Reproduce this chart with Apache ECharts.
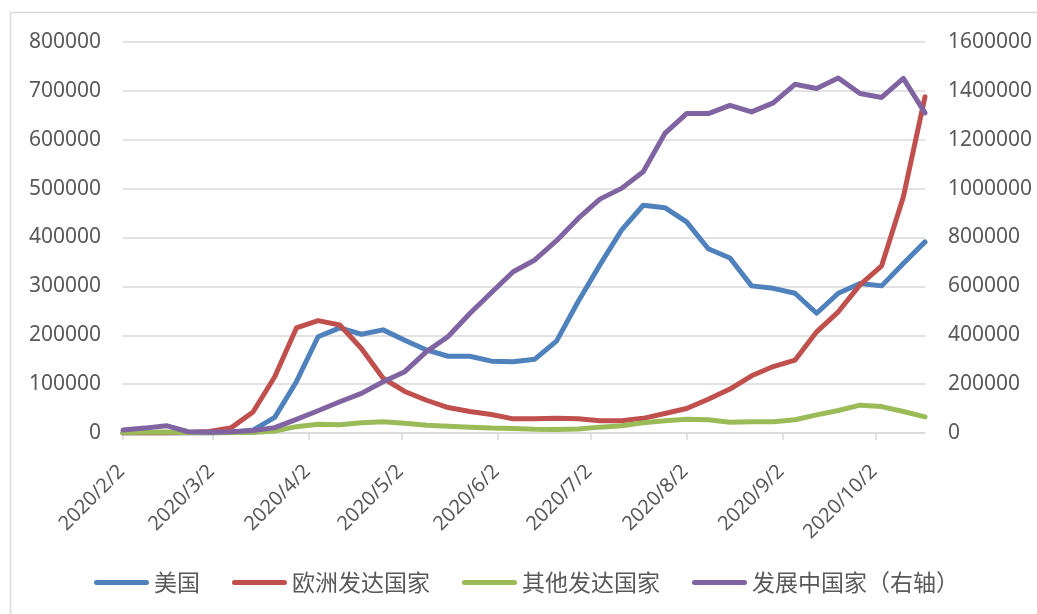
<!DOCTYPE html>
<html>
<head>
<meta charset="utf-8">
<script src="https://cdn.jsdelivr.net/npm/echarts@6/dist/echarts.min.js"></script>
<style>
    html, body { margin: 0; padding: 0; background: #fff; }
    #chart { width: 1037px; height: 614px; }
</style>
</head>
<body>
<div id="chart"></div>
<script>
    // weekly dates
    var weeks = ['2020/2/2', '2020/2/9', '2020/2/16', '2020/2/23', '2020/3/1', '2020/3/8',
        '2020/3/15', '2020/3/22', '2020/3/29', '2020/4/5', '2020/4/12', '2020/4/19', '2020/4/26',
        '2020/5/3', '2020/5/10', '2020/5/17', '2020/5/24', '2020/5/31', '2020/6/7', '2020/6/14',
        '2020/6/21', '2020/6/28', '2020/7/5', '2020/7/12', '2020/7/19', '2020/7/26', '2020/8/2',
        '2020/8/9', '2020/8/16', '2020/8/23', '2020/8/30', '2020/9/6', '2020/9/13', '2020/9/20',
        '2020/9/27', '2020/10/4', '2020/10/11', '2020/10/18'];

    var tickLabels = ['2020/2/2', '2020/3/2', '2020/4/2', '2020/5/2', '2020/6/2',
        '2020/7/2', '2020/8/2', '2020/9/2', '2020/10/2'];

    var names = ['美国', '欧洲发达国家', '其他发达国家', '发展中国家（右轴）'];

    var usa = [0, 0, 0, 0, 200, 1000, 6000, 32000, 105000, 197000, 215000, 202000, 211000, 190000,
        170000, 157000, 157000, 147000, 146000, 151000, 188000, 269000, 344000, 415000, 466000, 461000,
        432000, 377000, 358000, 301000, 296000, 286000, 245000, 286000, 306000, 301000, 347000, 391000];

    var europe = [0, 0, 0, 1000, 3000, 11000, 43000, 115000, 215000, 230000, 221000, 173000, 112000,
        85000, 67000, 52000, 44000, 38000, 29000, 29000, 30000, 29000, 25000, 25000, 30000, 40000, 50000,
        69000, 90000, 117000, 136000, 149000, 207000, 248000, 303000, 342000, 483000, 688000];

    var otherDev = [1000, 1500, 2000, 500, 500, 500, 1000, 4000, 13000, 18000, 17000, 21000, 23000,
        20000, 16000, 14000, 12000, 10000, 9000, 7500, 7000, 8000, 12000, 15000, 21000, 25000, 28000,
        27000, 22000, 23000, 23000, 27000, 37000, 46000, 57000, 54000, 44000, 33000];

    var developing = [12000, 20000, 30000, 5000, 3000, 5000, 10000, 22000, 56000, 91000, 128000,
        162000, 210000, 251000, 333000, 395000, 489000, 575000, 660000, 708000, 787000, 878000, 957000,
        1001000, 1069000, 1226000, 1307000, 1307000, 1341000, 1314000, 1351000, 1427000, 1410000,
        1453000, 1389000, 1373000, 1451000, 1310000];

    var colors = ['#4F81BD', '#C0504D', '#9BBB59', '#8064A2'];
    var labelColor = '#595959';
    var gridColor = '#D9D9D9';
    var numFont = 'Noto Sans';

    function toTime(label) {
        var p = label.split('/');
        return new Date(+p[0], +p[1] - 1, +p[2]).getTime();
    }
    var weekTimes = weeks.map(toTime);
    var tickTimes = tickLabels.map(toTime);

    function pairs(values) {
        return values.map(function (v, i) { return [weekTimes[i], v]; });
    }

    function lineSeries(i, values, yIndex) {
        return {
            name: names[i],
            type: 'line',
            yAxisIndex: yIndex,
            data: pairs(values),
            symbol: 'none',
            smooth: false,
            lineStyle: { color: colors[i], width: 5, cap: 'round', join: 'round' },
            itemStyle: { color: colors[i] },
            animation: false
        };
    }

    function plain(v) { return String(v); }

    var chart = echarts.init(document.getElementById('chart'));
    var legendIcon = 'path://M2.5,0 L52.5,0 A2.5,2.5 0 0 1 52.5,5 L2.5,5 A2.5,2.5 0 0 1 2.5,0 Z';

    chart.setOption({
        animation: false,
        color: colors,
        graphic: [{
            type: 'rect',
            shape: { x: 10.5, y: 12.5, width: 1100, height: 700 },
            style: { fill: 'none', stroke: gridColor, lineWidth: 1.5 },
            silent: true
        }],
        grid: { left: 123, right: 112, top: 42, bottom: 181, containLabel: false, outerBoundsMode: 'none' },
        legend: {
            left: 94,
            top: 571,
            padding: 0,
            itemWidth: 55,
            itemHeight: 5,
            itemGap: 32,
            icon: legendIcon,
            textStyle: { color: labelColor, fontSize: 23, fontFamily: 'Noto Sans CJK SC' },
            data: names
        },
        xAxis: {
            type: 'value',
            min: weekTimes[0],
            max: weekTimes[weekTimes.length - 1],
            axisLine: { lineStyle: { color: gridColor, width: 1.5 } },
            axisTick: {
                show: true,
                length: 7,
                customValues: tickTimes,
                lineStyle: { color: gridColor, width: 1.5 }
            },
            axisLabel: {
                customValues: tickTimes,
                rotate: 45,
                margin: 34,
                padding: [0, 2, 0, 0],
                color: labelColor,
                fontSize: 20,
                fontFamily: numFont,
                formatter: function (val) {
                    var idx = tickTimes.indexOf(val);
                    return idx >= 0 ? tickLabels[idx] : '';
                }
            },
            splitLine: { show: false }
        },
        yAxis: [{
            type: 'value',
            min: 0,
            max: 800000,
            interval: 100000,
            axisLine: { show: false },
            axisTick: { show: false },
            axisLabel: { color: labelColor, fontSize: 21, fontFamily: numFont, margin: 22, formatter: plain },
            splitLine: { lineStyle: { color: gridColor, width: 1.5 } }
        }, {
            type: 'value',
            min: 0,
            max: 1600000,
            interval: 200000,
            axisLine: { show: false },
            axisTick: { show: false },
            axisLabel: { color: labelColor, fontSize: 21, fontFamily: numFont, margin: 23, formatter: plain },
            splitLine: { show: false }
        }],
        series: [
            lineSeries(0, usa, 0),
            lineSeries(1, europe, 0),
            lineSeries(2, otherDev, 0),
            lineSeries(3, developing, 1)
        ]
    });
</script>
</body>
</html>
